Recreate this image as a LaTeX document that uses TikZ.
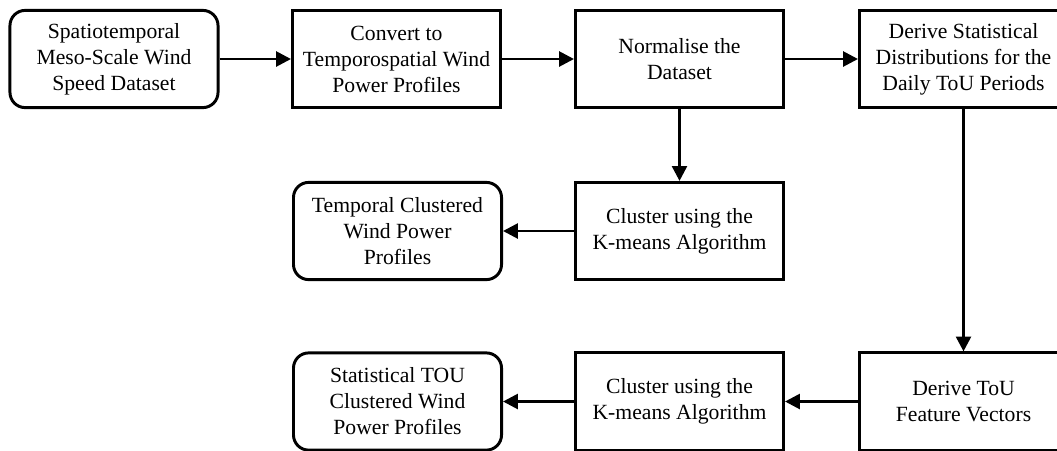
\documentclass[tikz,border=0pt]{standalone}
\usepackage{fontspec}
\setmainfont{Liberation Serif}
\usepackage{tikz}
\usetikzlibrary{arrows.meta,positioning}

\begin{document}
\begin{tikzpicture}[x=0.025cm,y=-0.025cm,
    blk/.style={draw=black,line width=2.1pt,fill=white,align=center,
                minimum width=5.2cm,minimum height=2.43cm,inner sep=0pt,
                font=\fontsize{15.4}{18.5}\selectfont},
    rblk/.style={blk,rounded corners=0.38cm},
    ar/.style={-{Triangle[length=0.37cm,width=0.37cm]},line width=2pt}
  ]
    \clip (0,0) rectangle (1057,450);
    % top row
    \node[rblk] (s1) at (114,59)   {Spatiotemporal\\Meso-Scale Wind\\Speed Dataset};
    \node[blk]  (s2) at (396.5,59) {Convert to\\Temporospatial Wind\\Power Profiles};
    \node[blk]  (s3) at (679.5,59) {Normalise the\\Dataset};
    \node[blk]  (s4) at (963.5,59) {Derive Statistical\\Distributions for the\\Daily ToU Periods};
    % temporal branch
    \node[blk]  (k1) at (679.5,231) {Cluster using the\\K-means Algorithm};
    \node[rblk] (r1) at (397.5,231) {Temporal Clustered\\Wind Power\\Profiles};
    % ToU branch
    \node[blk]  (s5) at (963.5,401.5) {Derive ToU\\Feature Vectors};
    \node[blk]  (k2) at (679.5,401.5) {Cluster using the\\K-means Algorithm};
    \node[rblk] (r2) at (397.5,401.5) {Statistical TOU\\Clustered Wind\\Power Profiles};
    \foreach \a/\b in {s1/s2,s2/s3,s3/s4,k1/r1,s5/k2,k2/r2}
      \draw[ar] (\a) -- (\b);
    \foreach \a/\b in {s3/k1,s4/s5}
      \draw[ar] (\a.south) -- (\b.north);
\end{tikzpicture}
\end{document}
